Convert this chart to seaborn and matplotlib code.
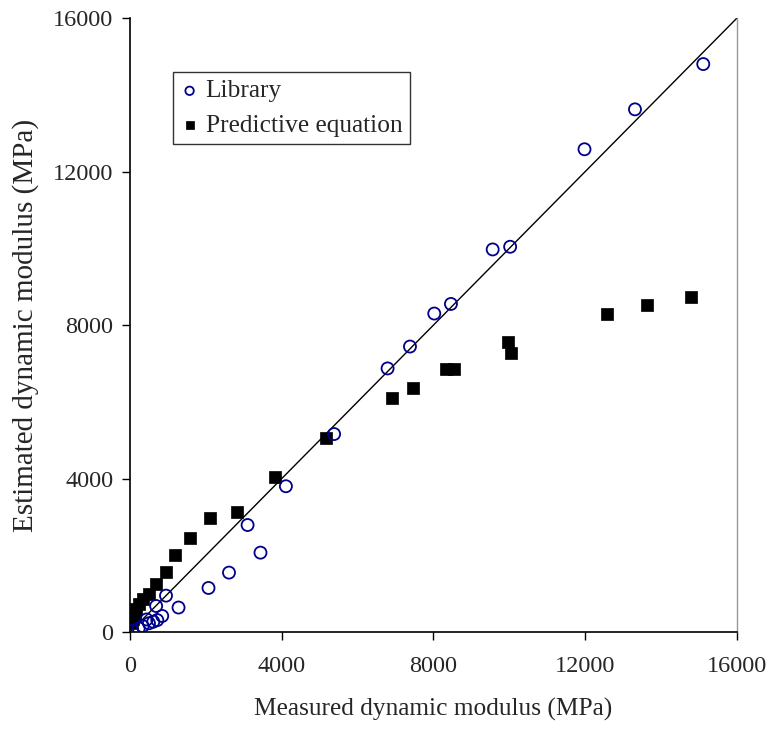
import matplotlib
matplotlib.use("Agg")
import matplotlib.pyplot as plt
import seaborn as sns
import pandas as pd

# Library estimates vs measured dynamic modulus (MPa)
library_measured = [60, 230, 334, 440, 500, 615, 690, 720, 850, 950, 1280,
                    2070, 2610, 3100, 3440, 4110, 5380, 6790, 7380, 8020,
                    8460, 9560, 10020, 11980, 13310, 15110]
library_estimated = [30, 100, 156, 330, 230, 270, 680, 313, 420, 950, 640,
                     1150, 1550, 2790, 2070, 3800, 5160, 6870, 7440, 8300,
                     8550, 9970, 10040, 12580, 13620, 14800]

# Predictive-equation estimates vs measured dynamic modulus (MPa)
predictive_measured = [60, 90, 120, 160, 230, 350, 500, 680, 960, 1200,
                       1580, 2100, 2830, 3820, 5170, 6900, 7450, 8320, 8550,
                       9970, 10040, 12570, 13620, 14790]
predictive_estimated = [250, 350, 480, 600, 720, 870, 1000, 1260, 1560, 2010,
                        2450, 2970, 3130, 4050, 5070, 6090, 6370, 6860, 6850,
                        7570, 7280, 8290, 8520, 8720]

axis_ticks = [0, 4000, 8000, 12000, 16000]
equality_line = [0, 16000]

lib = pd.DataFrame({"measured": library_measured, "estimated": library_estimated})
pred = pd.DataFrame({"measured": predictive_measured, "estimated": predictive_estimated})

sns.set_theme(style="white")
plt.rcParams["font.family"] = ["Liberation Serif", "DejaVu Serif"]

fig = plt.figure(figsize=(7.75, 7.35), dpi=100)
ax = fig.add_axes([0.1677, 0.140, 0.951 - 0.1677, 0.9755 - 0.140])

# line of equality
sns.lineplot(x=equality_line, y=equality_line, ax=ax, color="black",
             linewidth=1.0, zorder=1)

sns.scatterplot(data=pred, x="measured", y="estimated", ax=ax, marker="s",
                s=70, color="black", edgecolor="black", linewidth=0.5,
                label="Predictive equation", zorder=2)
sns.scatterplot(data=lib, x="measured", y="estimated", ax=ax, marker="o",
                s=75, facecolor="none", edgecolor="#00008B", linewidth=1.3,
                label="Library", zorder=3)

ax.set_xlim(0, 16000)
ax.set_ylim(0, 16000)
ax.set_xticks(axis_ticks)
ax.set_yticks(axis_ticks)
ax.set_xticklabels([str(t) for t in axis_ticks])
ax.set_yticklabels([str(t) for t in axis_ticks])
ax.tick_params(axis="both", which="major", direction="out", length=6,
               width=1.0, color="black", labelsize=17.5,
               bottom=True, left=True)
ax.tick_params(axis="x", pad=11)
ax.tick_params(axis="y", pad=6)

ax.set_xlabel("Measured dynamic modulus (MPa)", fontsize=18.3, labelpad=15)
ax.set_ylabel("Estimated dynamic modulus (MPa)", fontsize=21, labelpad=10)

for side in ["left", "bottom"]:
    ax.spines[side].set_visible(True)
    ax.spines[side].set_color("black")
    ax.spines[side].set_linewidth(1.2)
ax.spines["top"].set_visible(False)
ax.spines["right"].set_visible(True)
ax.spines["right"].set_color("#999999")
ax.spines["right"].set_linewidth(1.0)

handles, labels = ax.get_legend_handles_labels()
order = [labels.index("Library"), labels.index("Predictive equation")]
leg = ax.legend([handles[i] for i in order], [labels[i] for i in order],
                loc="upper left", bbox_to_anchor=(0.071, 0.912),
                borderaxespad=0, fontsize=18.3, frameon=True, fancybox=False,
                borderpad=0.3, handletextpad=0.28, labelspacing=0.45,
                handlelength=0.7, markerscale=0.7)
leg.get_frame().set_edgecolor("black")
leg.get_frame().set_linewidth(1.0)

fig.savefig("out.png", dpi=100, facecolor="white")
